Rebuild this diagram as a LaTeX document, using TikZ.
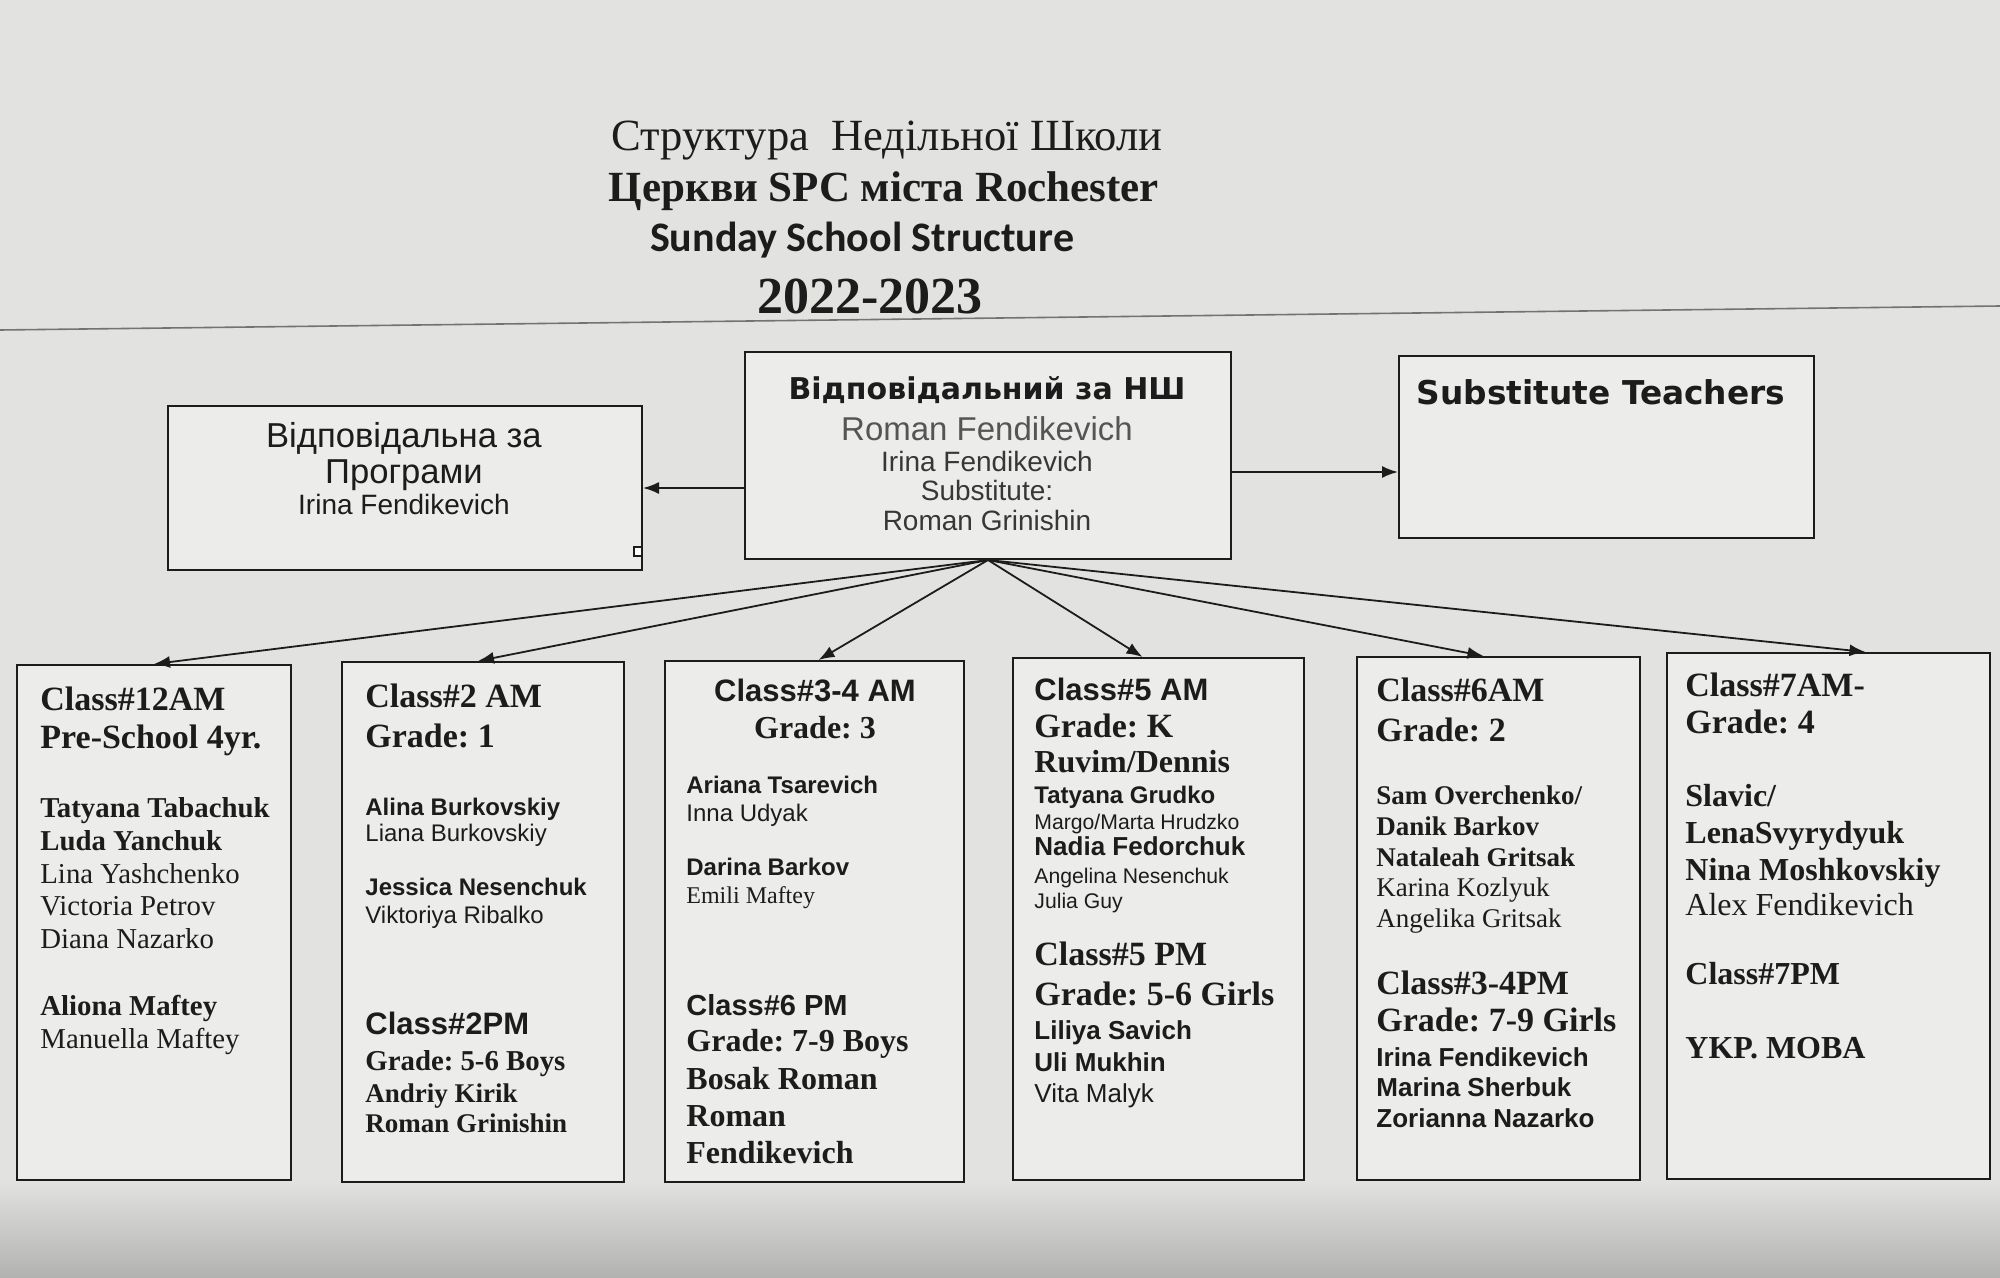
\documentclass[tikz,border=0pt]{standalone}
\usepackage{fontspec}
\setmainfont{Liberation Serif}
\setsansfont{Liberation Sans}
\newfontfamily\carlito{Carlito}
\newfontfamily\heavysans{DejaVu Sans}
\usetikzlibrary{arrows.meta}
\frenchspacing

\definecolor{paper}{RGB}{226,226,224}
\definecolor{paperdark}{RGB}{178,178,176}
\definecolor{boxfill}{RGB}{236,236,234}
\definecolor{ink}{RGB}{28,28,28}
\definecolor{greyink}{RGB}{85,85,85}
\definecolor{darkink}{RGB}{55,55,55}

\tikzset{
    box/.style={draw=ink, line width=1pt, fill=boxfill, inner sep=0pt},
    arr/.style={draw=ink, line width=0.9pt, -{Latex[length=8pt,width=6pt]}},
    txt/.style={inner sep=0pt, text=ink, yshift=-3.5pt},
    % serif lines (Times-like)
    sH/.style={font=\bfseries\fontsize{17}{20}\selectfont},
    sM/.style={font=\bfseries\fontsize{16}{19}\selectfont},
    sMr/.style={font=\fontsize{16}{19}\selectfont},
    sN/.style={font=\bfseries\fontsize{14.4}{17}\selectfont},
    sNr/.style={font=\fontsize{14.4}{17}\selectfont},
    sQ/.style={font=\bfseries\fontsize{13.5}{16}\selectfont},
    sQr/.style={font=\fontsize{13.5}{16}\selectfont},
    sS/.style={font=\fontsize{12}{14}\selectfont},
    % sans lines (Arial-like)
    aH/.style={font=\sffamily\bfseries\fontsize{15.5}{18}\selectfont},
    aHs/.style={font=\sffamily\bfseries\fontsize{14.5}{17}\selectfont},
    aL/.style={font=\sffamily\bfseries\fontsize{13}{16}\selectfont},
    aLr/.style={font=\sffamily\fontsize{13}{16}\selectfont},
    aN/.style={font=\sffamily\bfseries\fontsize{12}{14}\selectfont},
    aNr/.style={font=\sffamily\fontsize{12}{14}\selectfont},
    aS/.style={font=\sffamily\fontsize{10.6}{13}\selectfont},
    % top row
    heavy/.style={font=\heavysans\bfseries\fontsize{#1}{#1}\selectfont},
}

\begin{document}
\begin{tikzpicture}[x=0.5pt, y=-0.5pt]
    \useasboundingbox (0,0) rectangle (2000,1278);
    \fill[paper] (0,0) rectangle (2000,1278);
    \shade[top color=paper, bottom color=paperdark] (0,1180) rectangle (2000,1278);

    % title
    \node[txt, anchor=mid, font=\fontsize{22.3}{25}\selectfont] (t1) at (887,139) {Структура\ \ Недільної Школи};
    \node[txt, anchor=mid, font=\bfseries\fontsize{21.5}{24}\selectfont] (t2) at (884,190) {Церкви SPC міста Rochester};
    \node[txt, anchor=mid, font=\carlito\bfseries\fontsize{21}{24}\selectfont] (t3) at (862,240) {Sunday School Structure};
    \node[txt, anchor=mid, font=\bfseries\fontsize{26}{29}\selectfont] (t4) at (870,302) {2022-2023};
    \coordinate (rule l) at (0,330);
    \coordinate (rule r) at (2000,306);
    \draw[black!55, line width=0.8pt] (rule l) -- (rule r);

    % top row
    \node[box, minimum width=237pt, minimum height=82pt] (prog) at (405,488) {};
    \node[box, minimum width=243pt, minimum height=103.5pt] (top) at (988,455.5) {};
    \node[box, minimum width=207.5pt, minimum height=91pt] (subst) at (1606.5,447) {};
    \draw[ink, line width=0.6pt, fill=white] (634,547) rectangle (642,556);

    \node[txt, anchor=mid, font=\sffamily\fontsize{17.3}{20}\selectfont] (prog1) at (404,436) {Відповідальна за};
    \node[txt, anchor=mid, font=\sffamily\fontsize{17.3}{20}\selectfont] (prog2) at (404,472) {Програми};
    \node[txt, anchor=mid, font=\sffamily\fontsize{14}{16}\selectfont] (prog3) at (404,503) {Irina Fendikevich};

    \node[txt, heavy=15, anchor=mid] (top1) at (987,388) {Відповідальний за НШ};
    \node[txt, anchor=mid, text=greyink, font=\sffamily\fontsize{16.5}{19}\selectfont] (top2) at (987,429) {Roman Fendikevich};
    \node[txt, anchor=mid, text=darkink, font=\sffamily\fontsize{14}{16}\selectfont] (top3) at (987,460) {Irina Fendikevich};
    \node[txt, anchor=mid, text=darkink, font=\sffamily\fontsize{14}{16}\selectfont] (top4) at (987,489) {Substitute:};
    \node[txt, anchor=mid, text=darkink, font=\sffamily\fontsize{14}{16}\selectfont] (top5) at (987,519) {Roman Grinishin};

    \node[txt, heavy=16.4, anchor=mid] (subst1) at (1601,393) {Substitute Teachers};

    \draw[arr] (prog.east -| top.west) -- (prog.east);
    \draw[arr] ([yshift=-8.25pt]top.east) -- ([yshift=-8.25pt]top.east -| subst.west);

    % class boxes
    \node[box, minimum width=137pt, minimum height=257.5pt] (c1) at (154,922.5) {};
    \node[box, minimum width=141pt, minimum height=260pt] (c2) at (483,922) {};
    \node[box, minimum width=149.5pt, minimum height=260.5pt] (c3) at (814.5,921.5) {};
    \node[box, minimum width=145.5pt, minimum height=261pt] (c4) at (1158.5,919) {};
    \node[box, minimum width=141.5pt, minimum height=261.5pt] (c5) at (1498.5,918.5) {};
    \node[box, minimum width=161.5pt, minimum height=263pt] (c6) at (1828.5,916) {};

    \foreach \i/\dx in {1/0,2/-5,3/4,4/-16,5/-15,6/37}
        \draw[arr] (top.south) -- ([xshift=\dx*0.5pt]c\i.north);

    % class 12AM
    \foreach \y/\st/\tx [count=\i] in {699/sH/{Class\#12AM}, 737/sH/{Pre-School 4yr.},
            806/sN/{Tatyana Tabachuk}, 839/sN/{Luda Yanchuk}, 872/sNr/{Lina Yashchenko},
            904/sNr/{Victoria Petrov}, 937/sNr/{Diana Nazarko}, 1004/sN/{Aliona Maftey},
            1037/sNr/{Manuella Maftey}}
        \node[txt, \st, anchor=mid west] (b1-\i) at (40,\y) {\tx};

    % class 2
    \foreach \y/\st/\tx [count=\i] in {696/sH/{Class\#2 AM}, 736/sH/{Grade: 1},
            804/aN/{Alina Burkovskiy}, 830/aNr/{Liana Burkovskiy}, 884/aN/{Jessica Nesenchuk},
            912/aNr/{Viktoriya Ribalko}, 1023/aH/{Class\#2PM}, 1059/sN/{Grade: 5-6 Boys},
            1091/sQ/{Andriy Kirik}, 1121/sQ/{Roman Grinishin}}
        \node[txt, \st, anchor=mid west] (b2-\i) at (365,\y) {\tx};

    % class 3-4
    \node[txt, aH, anchor=mid] (b3-a) at (815,690) {Class\#3-4 AM};
    \node[txt, sM, anchor=mid] (b3-b) at (815,727) {Grade: 3};
    \foreach \y/\st/\tx [count=\i] in {782/aN/{Ariana Tsarevich}, 810/aNr/{Inna Udyak},
            864/aN/{Darina Barkov}, 892/sS/{Emili Maftey}, 1004/aHs/{Class\#6 PM},
            1040/sM/{Grade: 7-9 Boys}, 1078/sM/{Bosak Roman}, 1115/sM/{Roman},
            1152/sM/{Fendikevich}}
        \node[txt, \st, anchor=mid west] (b3-\i) at (686,\y) {\tx};

    % class 5
    \foreach \y/\st/\tx [count=\i] in {689/aH/{Class\#5 AM}, 726/sH/{Grade: K},
            761/sM/{Ruvim/Dennis}, 792/aN/{Tatyana Grudko}, 818/aS/{Margo/Marta Hrudzko},
            844/aL/{Nadia Fedorchuk}, 872/aS/{Angelina Nesenchuk}, 897/aS/{Julia Guy},
            954/sH/{Class\#5 PM}, 994/sH/{Grade: 5-6 Girls}, 1028/aL/{Liliya Savich},
            1060/aL/{Uli Mukhin}, 1091/aLr/{Vita Malyk}}
        \node[txt, \st, anchor=mid west] (b4-\i) at (1034,\y) {\tx};

    % class 6
    \foreach \y/\st/\tx [count=\i] in {690/sH/{Class\#6AM}, 730/sH/{Grade: 2},
            793/sQ/{Sam Overchenko/}, 824/sQ/{Danik Barkov}, 855/sQ/{Nataleah Gritsak},
            885/sQr/{Karina Kozlyuk}, 916/sQr/{Angelika Gritsak}, 983/sH/{Class\#3-4PM},
            1020/sH/{Grade: 7-9 Girls}, 1055/aL/{Irina Fendikevich}, 1085/aL/{Marina Sherbuk},
            1116/aL/{Zorianna Nazarko}}
        \node[txt, \st, anchor=mid west] (b5-\i) at (1376,\y) {\tx};

    % class 7
    \foreach \y/\st/\tx [count=\i] in {685/sH/{Class\#7AM-}, 722/sH/{Grade: 4},
            795/sM/{Slavic/}, 832/sM/{LenaSvyrydyuk}, 869/sM/{Nina Moshkovskiy},
            904/sMr/{Alex Fendikevich}, 973/sM/{Class\#7PM}, 1047/sM/{YKP. MOBA}}
        \node[txt, \st, anchor=mid west] (b6-\i) at (1685,\y) {\tx};
\end{tikzpicture}
\end{document}
